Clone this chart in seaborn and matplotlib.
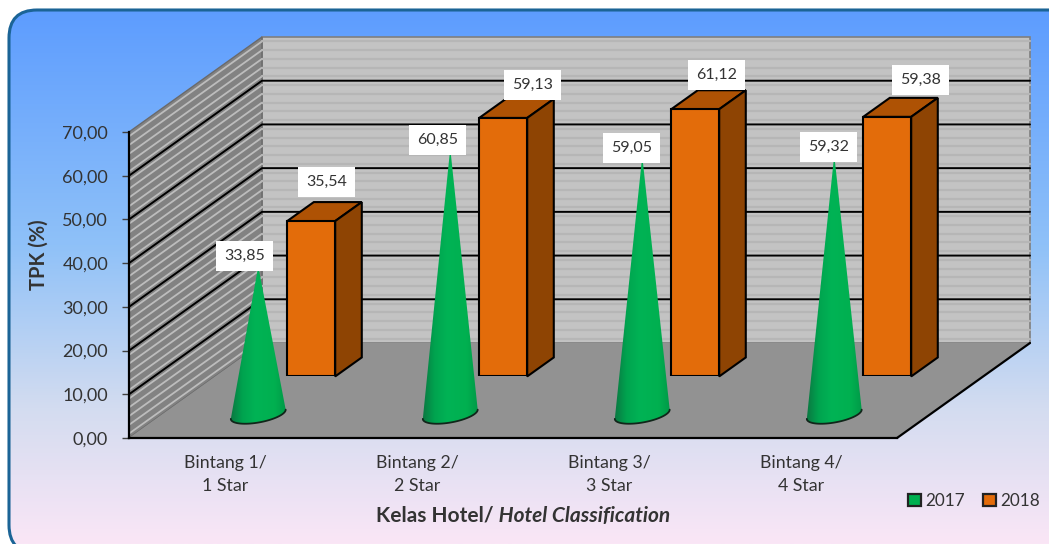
import numpy as np
import pandas as pd
import seaborn as sns
import matplotlib.pyplot as plt
from matplotlib.colors import LinearSegmentedColormap
from matplotlib.patches import FancyBboxPatch, Patch, Polygon
from matplotlib.transforms import IdentityTransform

# values
categories = ["Bintang 1/\n1 Star", "Bintang 2/\n2 Star", "Bintang 3/\n3 Star", "Bintang 4/\n4 Star"]
tpk_2017 = [33.85, 60.85, 59.05, 59.32]
tpk_2018 = [35.54, 59.13, 61.12, 59.38]
y_ticks = [0, 10, 20, 30, 40, 50, 60, 70]

W, H = 1049, 544
# front plane of the box in pixels
LEFT, RIGHT, BOTTOM, TOP = 129, 897, 438, 132
DEPTH_PX = (133, 95)
BAR_DEPTH = 0.648
BAR_SIZE = 0.2
CONE_DEPTH = 0.25

XMIN, XMAX = -0.5, 3.5
YMAX = 70
DX = DEPTH_PX[0] / (RIGHT - LEFT) * (XMAX - XMIN)
DY = DEPTH_PX[1] / (BOTTOM - TOP) * YMAX

# label nudges in pixels, the labels were moved by hand in the original
label_shift_2017 = [(-14, 10), (-13, 8), (-11, 8), (-6, 8)]
label_shift_2018 = [(-11, 20), (3, 14), (-5, 15), (7, 18)]

sns.set_style("white")
plt.rcParams['font.family'] = ['Lato', 'DejaVu Sans']
TEXT = '#333333'


def frame(px_left, px_bottom):
    """Axes rectangle of the front plane moved to the given pixel corner"""
    return [px_left / W, 1 - px_bottom / H, (RIGHT - LEFT) / W, (BOTTOM - TOP) / H]


def project(x, v, d):
    """Oblique projection, d runs from 0 (front) to 1 (back wall)"""
    return x + DX * d, v + DY * d


def wall(ax, pts, color, **kw):
    poly = Polygon([project(*p) for p in pts], closed=True, facecolor=color, clip_on=False, **kw)
    ax.add_patch(poly)
    return poly


df = pd.DataFrame({'kelas': categories, '2017': tpk_2017, '2018': tpk_2018})
fig = plt.figure(figsize=(W / 100, H / 100), dpi=100, facecolor='white')

# background panel, its box is given in display pixels and runs past the right and bottom edges
ax_bg = fig.add_axes([0, 0, 1, 1], zorder=0)
ax_bg.axis('off')
bg_cmap = LinearSegmentedColormap.from_list('bg', [(0, '#5b9bff'), (0.45, '#8fc1f8'), (0.75, '#d3dcf0'), (1, '#fae6f6')])
img = ax_bg.imshow(np.linspace(0, 1, 256).reshape(-1, 1), cmap=bg_cmap, aspect='auto', extent=[0, W, 0, H])
panel = FancyBboxPatch((9, -9), 1070, 543, boxstyle='round,pad=0,rounding_size=28',
                       facecolor='none', edgecolor='#1b6496', linewidth=2.2,
                       transform=IdentityTransform(), clip_on=False)
ax_bg.add_artist(panel)
img.set_clip_path(panel)
ax_bg.set_xlim(0, W)
ax_bg.set_ylim(0, H)

# main axes sits on the front plane
ax = fig.add_axes(frame(LEFT, BOTTOM), zorder=1)
ax.patch.set_visible(False)
ax.set_xlim(XMIN, XMAX)
ax.set_ylim(0, YMAX)
sns.despine(ax=ax, top=True, right=True)
for side in ['left', 'bottom']:
    ax.spines[side].set_color('black')
    ax.spines[side].set_linewidth(1.6)
    ax.spines[side].set_zorder(6)
ax.set_yticks(y_ticks)
ax.set_yticklabels([f"{t:.2f}".replace('.', ',') for t in y_ticks])
ax.set_xticks(range(len(categories)))
ax.set_xticklabels(categories, linespacing=1.55)
ax.tick_params(axis='y', left=True, length=5, width=1, color='#404040', pad=10, labelsize=13, labelcolor=TEXT)
ax.tick_params(axis='x', bottom=False, length=0, pad=12, labelsize=12.8, labelcolor=TEXT)
ax.set_ylabel('TPK (%)', fontsize=14.5, fontweight='bold', color=TEXT)
ax.yaxis.set_label_coords(-0.105, 0.6)

# walls and floor
wall(ax, [(XMIN, 0, 1), (XMAX, 0, 1), (XMAX, YMAX, 1), (XMIN, YMAX, 1)], '#c3c3c3',
     edgecolor='#7f7f7f', linewidth=1.2, zorder=1)
wall(ax, [(XMIN, 0, 0), (XMIN, 0, 1), (XMIN, YMAX, 1), (XMIN, YMAX, 0)], '#828282',
     edgecolor='#6a6a6a', linewidth=1, zorder=1)
wall(ax, [(XMIN, 0, 0), (XMAX, 0, 0), (XMAX, 0, 1), (XMIN, 0, 1)], '#929292',
     edgecolor='none', zorder=2)

for v in np.arange(1, YMAX, 2.0):
    ax.plot(*zip(project(XMIN, v, 0), project(XMIN, v, 1)), color='#bdbdbd', lw=1.3, clip_on=False, zorder=1.5)
    ax.plot(*zip(project(XMIN, v, 1), project(XMAX, v, 1)), color='#b6b6b6', lw=1.6, clip_on=False, zorder=1.5)
for v in y_ticks[1:-1]:
    ax.plot(*zip(project(XMIN, v, 0), project(XMIN, v, 1), project(XMAX, v, 1)),
            color='black', lw=1.4, clip_on=False, zorder=1.8)
ax.plot(*zip(project(XMAX, 0, 0), project(XMAX, 0, 1)), color='black', lw=1.6, clip_on=False, zorder=6)

# 2018 boxes: the front faces come from barplot, on axes moved back to the bar depth
ax_bars = fig.add_axes(frame(LEFT + DEPTH_PX[0] * BAR_DEPTH, BOTTOM - DEPTH_PX[1] * BAR_DEPTH), zorder=2)
sns.barplot(data=df, x='kelas', y='2018', ax=ax_bars, color='#e36c0a', saturation=1, width=0.25,
            edgecolor='black', linewidth=1.5, zorder=3)
ax_bars.set_xlim(XMIN, XMAX)
ax_bars.set_ylim(0, YMAX)
ax_bars.axis('off')
for bar in list(ax_bars.patches):
    x0, x1, top = bar.get_x(), bar.get_x() + bar.get_width(), bar.get_height()
    ddx, ddy = DX * BAR_SIZE, DY * BAR_SIZE
    ax_bars.add_patch(Polygon([(x0, top), (x1, top), (x1 + ddx, top + ddy), (x0 + ddx, top + ddy)],
                              facecolor='#ae5204', edgecolor='black', linewidth=1.5, clip_on=False, zorder=2))
    ax_bars.add_patch(Polygon([(x1, 0), (x1 + ddx, ddy), (x1 + ddx, top + ddy), (x1, top)],
                              facecolor='#8e4403', edgecolor='black', linewidth=1.5, clip_on=False, zorder=2))

# 2017 cones
ax_cones = fig.add_axes(frame(LEFT, BOTTOM), zorder=3)
ax_cones.patch.set_visible(False)
ax_cones.axis('off')
cone_cmap = LinearSegmentedColormap.from_list('cone', [(0, '#0a7a42'), (0.2, '#00a34f'), (0.45, '#00b355'),
                                                       (0.8, '#00b050'), (1, '#009a48')])
rx, rd = 0.125, 0.1
t0 = np.arctan2(DX * rd, rx)
arc = np.linspace(t0 + np.pi, t0 + 2 * np.pi, 40)
for i, val in enumerate(tpk_2017):
    ex, ey = project(i + rx * np.cos(arc), 0, CONE_DEPTH + rd * np.sin(arc))
    apex = project(i, val, CONE_DEPTH)
    pts = np.vstack([[apex], np.column_stack([ex, ey])])
    shape = Polygon(pts, closed=True, facecolor='none', edgecolor='none', clip_on=False)
    ax_cones.add_patch(shape)
    grad = ax_cones.imshow(np.linspace(0, 1, 64).reshape(1, -1), cmap=cone_cmap, aspect='auto',
                           extent=[ex.min(), ex.max(), ey.min(), apex[1]], zorder=2)
    grad.set_clip_path(shape)
    ax_cones.plot(ex, ey, color='#10261a', lw=1.3, clip_on=False, zorder=3)
ax_cones.set_xlim(XMIN, XMAX)
ax_cones.set_ylim(0, YMAX)

# data labels
box = dict(boxstyle='square,pad=0.5', facecolor='white', edgecolor='none')
for i, (a, b) in enumerate(zip(tpk_2017, tpk_2018)):
    ax_cones.annotate(f"{a:.2f}".replace('.', ','), xy=project(i, a, CONE_DEPTH),
                      xytext=label_shift_2017[i], textcoords='offset pixels', annotation_clip=False,
                      ha='center', va='center', fontsize=11.5, color=TEXT, bbox=box, zorder=5)
    ax_cones.annotate(f"{b:.2f}".replace('.', ','), xy=project(i, b, BAR_DEPTH + BAR_SIZE),
                      xytext=label_shift_2018[i], textcoords='offset pixels', annotation_clip=False,
                      ha='center', va='center', fontsize=11.5, color=TEXT, bbox=box, zorder=5)

# x title, mixed bold and bold italic
t1 = fig.text(376 / W, 1 - 516 / H, 'Kelas Hotel/', fontsize=15, fontweight='bold', color=TEXT, va='center')
ax.annotate(' Hotel Classification', xy=(1, 0.5), xycoords=t1, va='center', fontsize=15,
            fontweight='bold', fontstyle='italic', color=TEXT, annotation_clip=False)

handles = [Patch(facecolor='#00b050', edgecolor='#222222', linewidth=1.6, label='2017'),
           Patch(facecolor='#e36c0a', edgecolor='#222222', linewidth=1.6, label='2018')]
fig.legend(handles=handles, loc='center left', bbox_to_anchor=(908 / W, 1 - 501 / H), ncol=2, frameon=False,
           fontsize=12.3, handlelength=0.75, handleheight=0.75, handletextpad=0.27, columnspacing=1.05,
           labelcolor=TEXT, borderpad=0, borderaxespad=0)

plt.savefig('out.png', dpi=100)
plt.close()
